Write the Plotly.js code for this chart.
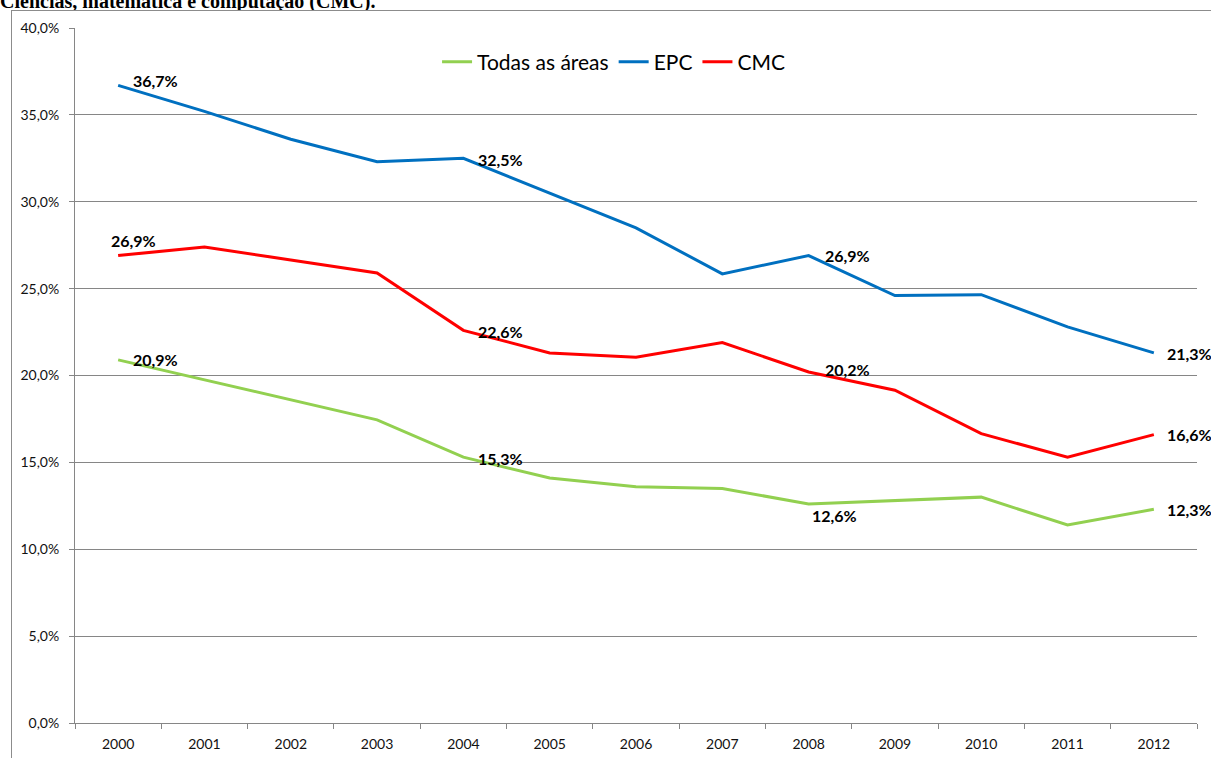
<!DOCTYPE html>
<html>
<head>
<meta charset="utf-8">
<script src="https://cdn.plot.ly/plotly-3.0.1.min.js"></script>
<style>
  html, body { margin:0; padding:0; background:#fff; overflow:hidden; }
  #wrap { position:relative; width:1211px; height:758px; }
  #chart { position:absolute; left:0; top:0; width:1211px; height:758px; }
  #frame { position:absolute; left:11px; top:10px; width:1260px; height:800px; border:1px solid #8c8c8c; pointer-events:none; }
  #title { position:absolute; left:0; top:0; width:1211px; height:10px; overflow:hidden; background:#fff; }
  #title span { display:block; position:relative; top:-9px; font-family:"Liberation Serif","Times New Roman",serif; font-weight:bold; font-size:20px; line-height:20px; color:#000; white-space:nowrap; }
</style>
</head>
<body>
<div id="wrap">
  <div id="chart"></div>
  <div id="frame"></div>
  <div id="title"><span>Ciências, matemática e computação (CMC).</span></div>
</div>
<script>
const years = ['2000','2001','2002','2003','2004','2005','2006','2007','2008','2009','2010','2011','2012'];
const todas = [20.9, 19.75, 18.6, 17.45, 15.3, 14.1, 13.6, 13.5, 12.6, 12.8, 13.0, 11.4, 12.3];
const epc   = [36.7, 35.2, 33.6, 32.3, 32.5, 30.5, 28.5, 25.85, 26.9, 24.6, 24.65, 22.8, 21.3];
const cmc   = [26.9, 27.4, 26.65, 25.9, 22.6, 21.3, 21.05, 21.9, 20.2, 19.15, 16.65, 15.3, 16.6];
const seriesNames = ['Todas as áreas', 'EPC', 'CMC'];
const labelIdx = [0, 4, 8, 12];

const colors = ['#92D050', '#0070C0', '#FF0000'];
const seriesData = [todas, epc, cmc];

const traces = seriesData.map((d, i) => ({
  x: years, y: d, type: 'scatter', mode: 'lines', name: seriesNames[i],
  line: { color: colors[i], width: 3 }, hoverinfo: 'skip'
}));

// label placement style (shifts in px) per series/point
const shiftStyle = {
  '0-0': [13, 0], '0-4': [13, -1], '0-8': [1, -11], '0-12': [11, 0],
  '1-0': [13, 5], '1-4': [13, -1], '1-8': [14, 0], '1-12': [11, -1],
  '2-0': [-9, 15], '2-4': [13, -1], '2-8': [14, 3], '2-12': [11, 0]
};

const fmt = v => v.toFixed(1).replace('.', ',') + '%';
const annotations = [];
seriesData.forEach((d, s) => {
  labelIdx.forEach(k => {
    const sh = shiftStyle[s + '-' + k];
    annotations.push({
      x: k, y: d[k], xref: 'x', yref: 'y', text: '<b>' + fmt(d[k]) + '</b>',
      showarrow: false, xanchor: 'left', yanchor: 'middle',
      xshift: sh[0], yshift: sh[1],
      font: { family: 'Lato, Carlito, sans-serif', size: 16, color: '#000' }
    });
  });
});

const layout = {
  width: 1211, height: 758,
  margin: { l: 75, r: 14, t: 28, b: 35 },
  paper_bgcolor: '#fff', plot_bgcolor: '#fff',
  separators: ',.',
  showlegend: true,
  legend: {
    orientation: 'h', x: 0.48, xanchor: 'center', y: 0.951, yanchor: 'middle',
    font: { family: 'Lato, Carlito, sans-serif', size: 21, color: '#000' },
    bgcolor: 'rgba(0,0,0,0)', itemwidth: 30, tracegroupgap: 0
  },
  xaxis: {
    type: 'category', tickson: 'boundaries', ticks: 'outside', ticklen: 5,
    tickcolor: '#868686', showline: true, linecolor: '#868686', linewidth: 1,
    showgrid: false, zeroline: false, fixedrange: true,
    tickfont: { family: 'Lato, Carlito, sans-serif', size: 14, color: '#111' },
    ticklabelstandoff: 8,
    range: [-0.5, 12.5]
  },
  yaxis: {
    range: [0, 40], dtick: 5, tick0: 0, tickformat: '.1f', ticksuffix: '%',
    ticks: 'outside', ticklen: 5, tickcolor: '#868686',
    showline: true, linecolor: '#868686', linewidth: 1,
    showgrid: true, gridcolor: '#868686', gridwidth: 1, zeroline: false, fixedrange: true,
    tickfont: { family: 'Lato, Carlito, sans-serif', size: 14, color: '#111' },
    ticklabelstandoff: 7
  },
  annotations: annotations
};

Plotly.newPlot('chart', traces, layout, { staticPlot: true, displayModeBar: false });
</script>
</body>
</html>
